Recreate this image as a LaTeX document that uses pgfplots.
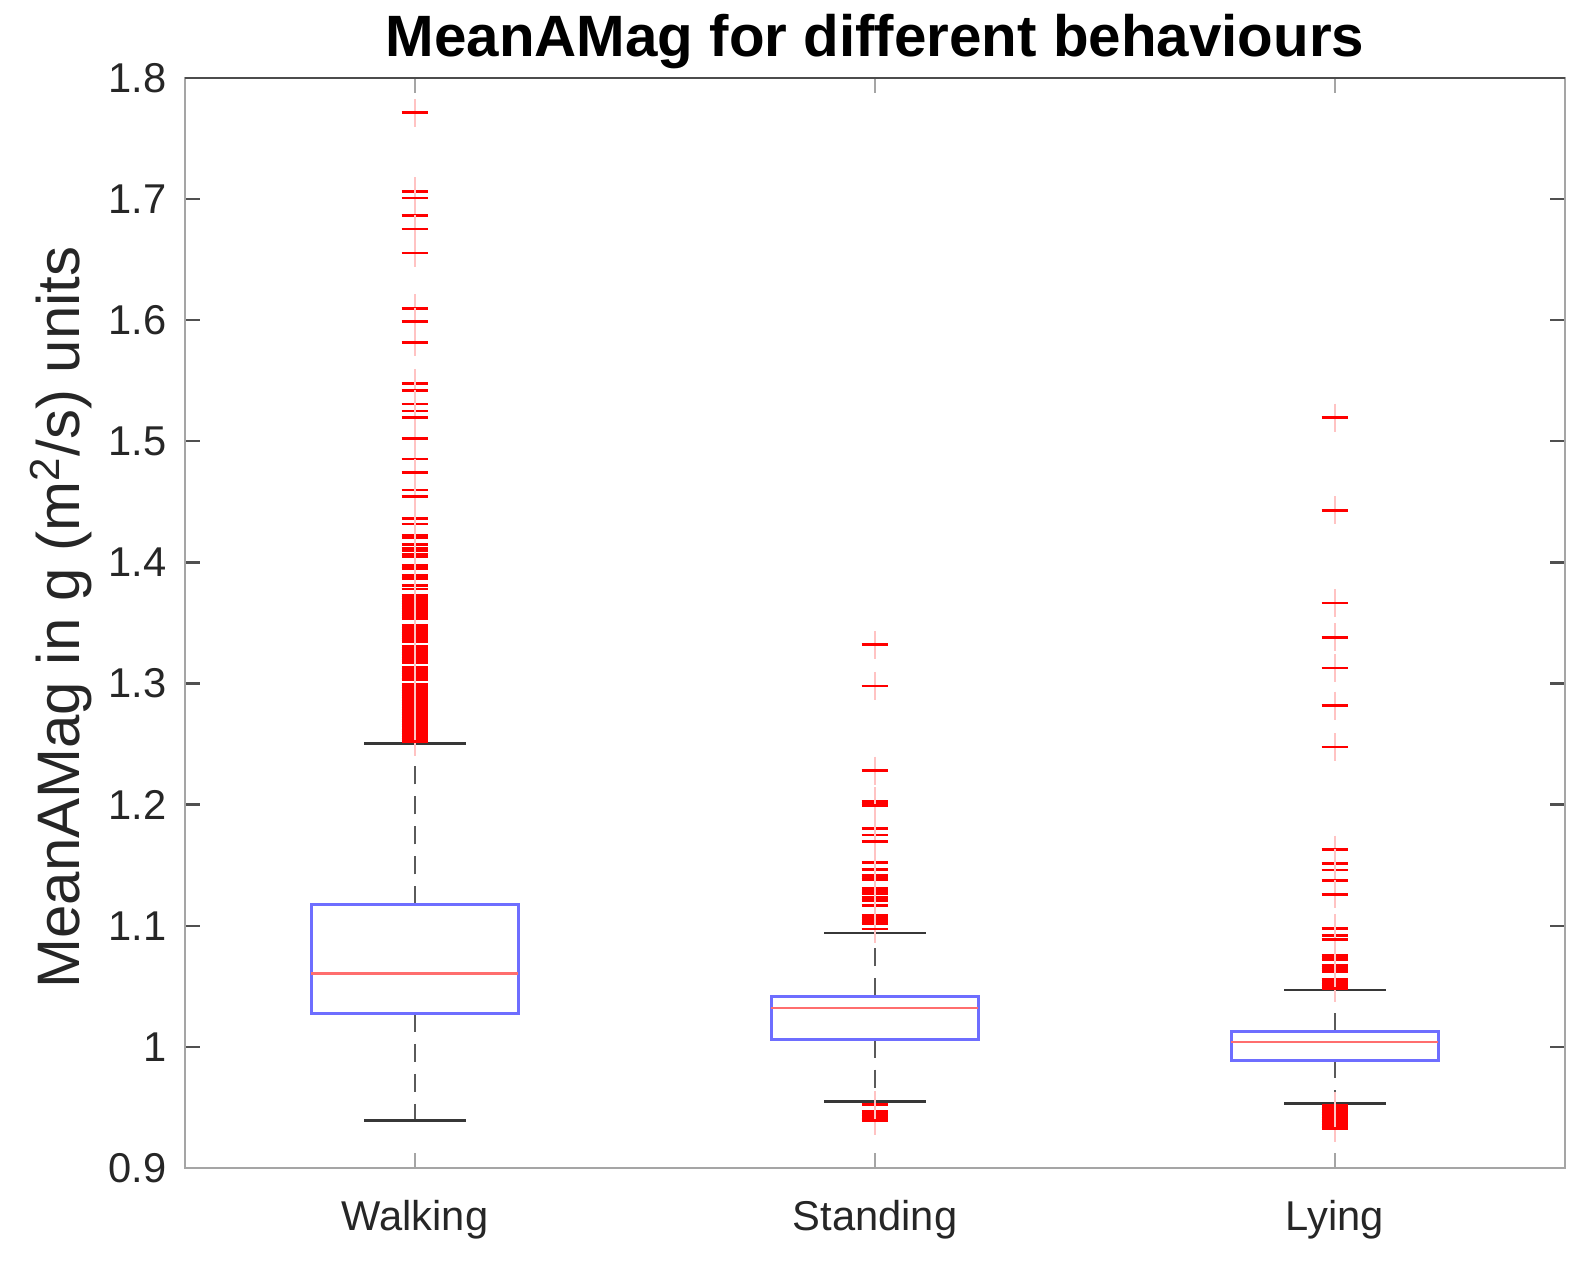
\documentclass[border=0pt]{standalone}
\usepackage{fontspec}
\setmainfont{Liberation Sans}
\usepackage{pgfplots}
\pgfplotsset{compat=1.18}
\usepgfplotslibrary{statistics}

\definecolor{boxblue}{RGB}{110,110,255}
\definecolor{medred}{RGB}{255,110,110}
\definecolor{outred}{RGB}{255,0,0}
\definecolor{outpale}{RGB}{255,195,195}
\definecolor{whisk}{RGB}{90,90,90}
\definecolor{capc}{RGB}{55,55,55}
\definecolor{axgray}{RGB}{165,165,165}
\definecolor{tickdark}{RGB}{80,80,80}
\definecolor{labgray}{RGB}{38,38,38}

\pgfdeclareplotmark{mplus}{%
  \pgfsetlinewidth{0.6pt}%
  \pgfsetstrokecolor{outpale}%
  \pgfpathmoveto{\pgfqpoint{0pt}{4.2pt}}%
  \pgfpathlineto{\pgfqpoint{0pt}{-4.2pt}}%
  \pgfusepathqstroke
  \pgfsetlinewidth{0.85pt}%
  \pgfsetstrokecolor{outred}%
  \pgfpathmoveto{\pgfqpoint{-4pt}{0pt}}%
  \pgfpathlineto{\pgfqpoint{4pt}{0pt}}%
  \pgfusepathqstroke
}

\pgfplotsset{
  mbox/.style={
    mark=mplus,
    boxplot/draw direction=y,
    boxplot/box extend=0.45,
    boxplot/whisker extend=0.22,
    boxplot/draw/box/.code={%
      \draw[boxblue, line width=0.9pt]
        (boxplot box cs:\pgfplotsboxplotvalue{lower quartile},0) rectangle
        (boxplot box cs:\pgfplotsboxplotvalue{upper quartile},1);
    },
    boxplot/draw/median/.code={%
      \draw[medred, line width=0.75pt]
        (boxplot box cs:\pgfplotsboxplotvalue{median},0) --
        (boxplot box cs:\pgfplotsboxplotvalue{median},1);
    },
    boxplot/draw/lower whisker/.code={%
      \draw[whisk, line width=0.75pt, dash pattern=on 5.5pt off 3.5pt]
        (boxplot cs:\pgfplotsboxplotvalue{lower quartile}) --
        (boxplot cs:\pgfplotsboxplotvalue{lower whisker});
      \draw[capc, line width=0.8pt]
        (boxplot whisker cs:\pgfplotsboxplotvalue{lower whisker},0) --
        (boxplot whisker cs:\pgfplotsboxplotvalue{lower whisker},1);
    },
    boxplot/draw/upper whisker/.code={%
      \draw[whisk, line width=0.75pt, dash pattern=on 5.5pt off 3.5pt]
        (boxplot cs:\pgfplotsboxplotvalue{upper quartile}) --
        (boxplot cs:\pgfplotsboxplotvalue{upper whisker});
      \draw[capc, line width=0.8pt]
        (boxplot whisker cs:\pgfplotsboxplotvalue{upper whisker},0) --
        (boxplot whisker cs:\pgfplotsboxplotvalue{upper whisker},1);
    },
  }
}

\begin{document}
\begin{tikzpicture}
\useasboundingbox (0,0) rectangle (477pt,379.2pt);
\begin{axis}[
  at={(55.5pt,28.8pt)}, anchor=south west,
  scale only axis, width=414pt, height=327pt,
  xmin=0.5, xmax=3.5, ymin=0.9, ymax=1.8,
  xtick={1,2,3}, xticklabels={Walking,Standing,Lying},
  ytick={0.9,1,1.1,1.2,1.3,1.4,1.5,1.6,1.7,1.8},
  yticklabels={0.9,1,1.1,1.2,1.3,1.4,1.5,1.6,1.7,1.8},
  tick align=inside,
  major tick length=4.5pt,
  axis line style={axgray, line width=0.7pt},
  xtick style={axgray, line width=0.7pt},
  ytick style={tickdark, line width=0.7pt},
  tick label style={font=\fontsize{12.5}{15}\selectfont, text=labgray},
  xticklabel style={inner sep=0pt, yshift=-9.6pt},
  yticklabel style={inner sep=0pt, xshift=-5.4pt},
  title={MeanAMag for different behaviours},
  every axis title/.style={font=\bfseries\fontsize{17.5}{20}\selectfont, at={(axis description cs:0.5,1)}, anchor=base, yshift=6.3pt},
  ylabel={MeanAMag in g (m\textsuperscript{2}/s) units},
  ylabel style={font=\fontsize{18}{21}\selectfont, text=labgray, at={(axis description cs:-0.0761,0.505)}, anchor=base},
]
% Walking
\addplot[mbox, boxplot prepared={draw position=1, median=1.0607, upper quartile=1.1177, lower quartile=1.0273, upper whisker=1.2506, lower whisker=0.939}]
 table[row sep=\\, y index=0] {y\\
 1.7713\\ 1.7064\\ 1.7009\\ 1.6866\\ 1.6753\\ 1.6555\\ 1.6098\\ 1.5988\\ 1.5817\\ 1.5479\\ 1.5421\\ 1.5308\\ 1.5250\\ 1.5195\\
 1.5025\\ 1.4854\\ 1.4741\\ 1.4598\\ 1.4543\\ 1.4364\\ 1.4317\\ 1.4226\\ 1.4204\\ 1.4146\\ 1.4116\\ 1.4094\\ 1.4070\\ 1.4047\\
 1.3976\\ 1.3948\\ 1.3893\\ 1.3866\\ 1.3808\\ 1.3780\\
 1.3731\\ 1.3711\\ 1.3691\\ 1.3671\\ 1.3651\\ 1.3631\\ 1.3611\\ 1.3591\\ 1.3571\\ 1.3551\\ 1.3538\\
 1.3478\\ 1.3458\\ 1.3438\\ 1.3418\\ 1.3398\\ 1.3378\\ 1.3368\\ 1.3346\\
 1.3310\\ 1.3290\\ 1.3270\\ 1.3250\\ 1.3230\\ 1.3210\\ 1.3190\\ 1.3172\\
 1.3136\\ 1.3116\\ 1.3096\\ 1.3076\\ 1.3056\\ 1.3036\\ 1.3029\\
 1.2996\\ 1.2976\\ 1.2956\\ 1.2936\\ 1.2916\\ 1.2896\\ 1.2876\\ 1.2856\\ 1.2836\\ 1.2816\\ 1.2796\\ 1.2776\\ 1.2756\\
 1.2736\\ 1.2716\\ 1.2696\\ 1.2676\\ 1.2656\\ 1.2636\\ 1.2616\\ 1.2596\\ 1.2576\\ 1.2556\\ 1.2536\\ 1.2519\\
 };
% Standing
\addplot[mbox, boxplot prepared={draw position=2, median=1.032, upper quartile=1.042, lower quartile=1.006, upper whisker=1.094, lower whisker=0.955}]
 table[row sep=\\, y index=0] {y\\
 1.332\\ 1.298\\ 1.228\\ 1.203\\ 1.201\\ 1.199\\ 1.1804\\ 1.175\\ 1.1694\\ 1.1524\\ 1.1468\\ 1.1419\\ 1.140\\ 1.138\\
 1.1309\\ 1.1289\\ 1.1269\\ 1.1262\\ 1.1234\\ 1.1207\\ 1.1166\\ 1.1083\\ 1.1063\\ 1.1043\\ 1.1023\\ 1.1014\\ 1.0973\\
 0.9522\\ 0.9465\\ 0.9445\\ 0.9425\\ 0.9405\\ 0.939\\
 };
% Lying
\addplot[mbox, boxplot prepared={draw position=3, median=1.0042, upper quartile=1.0125, lower quartile=0.9891, upper whisker=1.0469, lower whisker=0.9533}]
 table[row sep=\\, y index=0] {y\\
 1.5195\\ 1.443\\ 1.3665\\ 1.3381\\ 1.3128\\ 1.2817\\ 1.2476\\ 1.1628\\ 1.1515\\ 1.146\\ 1.1375\\ 1.1259\\
 1.0978\\ 1.0923\\ 1.089\\ 1.0758\\ 1.0738\\ 1.0717\\ 1.0676\\ 1.0656\\ 1.0636\\ 1.062\\
 1.0557\\ 1.0537\\ 1.0517\\ 1.0497\\ 1.0483\\
 0.9513\\ 0.9493\\ 0.9473\\ 0.9453\\ 0.9433\\ 0.9413\\ 0.9393\\ 0.9373\\ 0.9353\\ 0.9333\\ 0.9327\\
 };
\draw[black!70, line width=0.7pt] (axis description cs:0,1) -- (axis description cs:1,1);
\end{axis}
\end{tikzpicture}
\end{document}
